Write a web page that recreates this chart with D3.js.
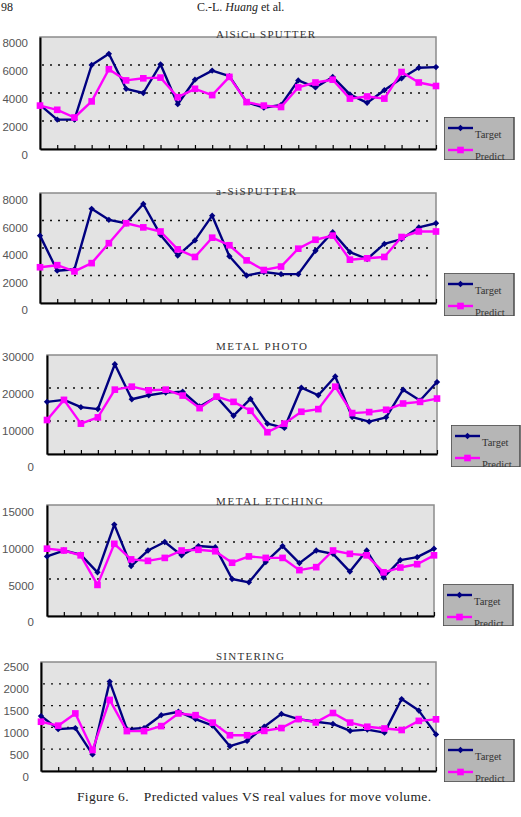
<!DOCTYPE html>
<html>
<head>
<meta charset="utf-8">
<script src="https://cdn.jsdelivr.net/npm/d3@7"></script>
<style>
    body { margin: 0; background: #fff; }
    svg { display: block; }
</style>
</head>
<body>
<div id="chart"></div>
<script>

// x categories (24 periods)
const periods = [1, 2, 3, 4, 5, 6, 7, 8, 9, 10, 11, 12, 13, 14, 15, 16, 17, 18, 19, 20, 21, 22, 23, 24];
const seriesNames = ["Target", "Predict"];

// AlSiCu SPUTTER
const alsicuTarget  = [3150, 2100, 2100, 6000, 6800, 4300, 4000, 6050, 3200, 4950, 5600, 5200, 3350, 2950, 3150, 4900, 4400, 5150, 3900, 3300, 4200, 5050, 5800, 5850];
const alsicuPredict = [3100, 2800, 2250, 3400, 5700, 4900, 5050, 5100, 3700, 4300, 3850, 5150, 3350, 3100, 3000, 4400, 4750, 4950, 3600, 3750, 3600, 5500, 4750, 4500];
const alsicuTicks = [0, 2000, 4000, 6000, 8000];

// a-Si SPUTTER
const asiTarget  = [4900, 2350, 2450, 6850, 6050, 5800, 7200, 4950, 3450, 4550, 6350, 3400, 2000, 2250, 2100, 2100, 3800, 5150, 3700, 3200, 4300, 4650, 5500, 5800];
const asiPredict = [2600, 2750, 2300, 2900, 4350, 5800, 5500, 5200, 3900, 3350, 4750, 4200, 3100, 2400, 2650, 3950, 4600, 4900, 3150, 3250, 3350, 4800, 5200, 5200];
const asiTicks = [0, 2000, 4000, 6000, 8000];

// METAL PHOTO
const photoTarget  = [15800, 16400, 14200, 13600, 27200, 16600, 17800, 18600, 18900, 14400, 17300, 11600, 16700, 9200, 7900, 20100, 17800, 23500, 11200, 9800, 11100, 19500, 16200, 21800];
const photoPredict = [10300, 16400, 9200, 11100, 19500, 20400, 19300, 19500, 17700, 13900, 17400, 15800, 13100, 6600, 9200, 12800, 13600, 20400, 12400, 12700, 13400, 15300, 15800, 16800];
const photoTicks = [0, 10000, 20000, 30000];

// METAL ETCHING
const etchTarget  = [8050, 8850, 8300, 5900, 12350, 6750, 8850, 10000, 8200, 9450, 9300, 5000, 4550, 7300, 9450, 7150, 8850, 8400, 6000, 8850, 5200, 7550, 7950, 9100];
const etchPredict = [9100, 8850, 8200, 4200, 9750, 7650, 7450, 7850, 8850, 8950, 8750, 7200, 8050, 7850, 7850, 6200, 6600, 8850, 8400, 8200, 5900, 6550, 7000, 8200];
const etchTicks = [0, 5000, 10000, 15000];

// SINTERING
const sinterTarget  = [1260, 960, 985, 380, 2050, 960, 985, 1280, 1360, 1190, 1040, 570, 690, 1015, 1310, 1190, 1130, 1080, 920, 950, 880, 1650, 1385, 840];
const sinterPredict = [1130, 1040, 1320, 480, 1630, 915, 915, 1030, 1320, 1280, 1110, 820, 820, 920, 985, 1190, 1115, 1330, 1110, 1015, 975, 940, 1150, 1185];
const sinterTicks = [0, 500, 1000, 1500, 2000, 2500];

const colors = {Target: "#000080", Predict: "#ff00ff"};

class LinePanel {

    constructor(svg, cfg) {
        this.svg = svg;
        this.cfg = cfg;
        this.initVis();
    }

    initVis() {
        let vis = this;
        let c = vis.cfg;

        vis.g = vis.svg.append("g");

        vis.x = d3.scalePoint().domain(periods).range([c.left, c.right]);
        vis.y = d3.scaleLinear().domain([0, d3.max(c.ticks)]).range([c.bottom, c.top]);
        // the scanned tick labels sit a little off the grid, so they get their own scale
        vis.yLab = d3.scaleLinear().domain(vis.y.domain()).range([c.labBottom, c.labTop]);

        // plot area
        vis.g.append("rect")
            .attr("x", c.left).attr("y", c.top)
            .attr("width", c.right - c.left)
            .attr("height", c.bottom - c.top)
            .attr("fill", "#e3e3e3")
            .attr("stroke", "#8c8c8c")
            .attr("stroke-width", 1.5);

        // dotted grid
        vis.g.selectAll(".grid")
            .data(c.ticks.slice(1, -1))
            .enter().append("line")
            .attr("x1", c.left + 2).attr("x2", c.right - 2)
            .attr("y1", d => vis.y(d)).attr("y2", d => vis.y(d))
            .attr("stroke", "#111")
            .attr("stroke-width", 1.3)
            .attr("stroke-dasharray", "2,6");

        // left axis line
        vis.g.append("g")
            .attr("transform", "translate(" + c.left + ",0)")
            .call(d3.axisLeft(vis.y).tickValues([]).tickSizeOuter(0))
            .select(".domain").attr("stroke", "#000").attr("stroke-width", 2);

        // bottom axis with ticks pointing up
        let xAxis = vis.g.append("g")
            .attr("transform", "translate(0," + c.bottom + ")")
            .call(d3.axisBottom(vis.x).tickValues(periods.slice(1)).tickSizeInner(-4).tickSizeOuter(0).tickFormat(""));
        xAxis.select(".domain").attr("stroke", "#000").attr("stroke-width", 2);
        xAxis.selectAll(".tick line").attr("stroke", "#000").attr("stroke-width", 1.2);

        // y labels
        let yAxis = vis.g.append("g")
            .attr("transform", "translate(" + c.labX + ",0)")
            .call(d3.axisLeft(vis.yLab).tickValues(c.ticks).tickSize(0).tickPadding(0).tickFormat(d3.format("d")));
        yAxis.select(".domain").remove();
        yAxis.selectAll("text")
            .attr("fill", "#555")
            .style("font-family", "'Liberation Sans', Arial, sans-serif")
            .style("font-size", "11.5px");

        // title
        vis.g.append("text")
            .attr("x", 216).attr("y", c.titleY)
            .attr("textLength", c.titleW)
            .attr("lengthAdjust", "spacing")
            .attr("fill", "#333")
            .style("font-family", "'Liberation Serif', 'DejaVu Serif', serif")
            .style("font-size", "11px")
            .text(c.title);

        vis.updateVis();
        vis.drawLegend();
    }

    updateVis() {
        let vis = this;
        let c = vis.cfg;

        let line = d3.line()
            .x((d, i) => vis.x(periods[i]))
            .y(d => vis.y(d));

        let series = [
            {key: "Target", values: c.target},
            {key: "Predict", values: c.predict}
        ];

        series.forEach(s => {
            vis.g.append("path")
                .datum(s.values)
                .attr("d", line)
                .attr("fill", "none")
                .attr("stroke", colors[s.key])
                .attr("stroke-width", 2.4)
                .attr("stroke-linejoin", "round");

            vis.g.selectAll(".pt-" + s.key)
                .data(s.values)
                .enter().append("path")
                .attr("d", d3.symbol(d3.symbolSquare, s.key == "Target" ? 20 : 44))
                .attr("transform", (d, i) => "translate(" + vis.x(periods[i]) + "," + vis.y(d) + ")" + (s.key == "Target" ? " rotate(45)" : ""))
                .attr("fill", colors[s.key]);
        });
    }

    drawLegend() {
        let vis = this;
        let L = vis.cfg.legend;
        let id = "clip" + Math.round(L.y);

        vis.svg.append("clipPath").attr("id", id)
            .append("rect").attr("x", L.x).attr("y", L.y).attr("width", L.w + 1).attr("height", L.h);

        let lg = vis.g.append("g").attr("clip-path", "url(#" + id + ")");

        lg.append("rect")
            .attr("x", L.x).attr("y", L.y)
            .attr("width", L.w).attr("height", L.h)
            .attr("fill", "#b6b6b6")
            .attr("stroke", "#4a4a4a")
            .attr("stroke-width", 1.5);

        seriesNames.forEach((name, i) => {
            let ly = L.y + 11 + i * 22;
            lg.append("line")
                .attr("x1", L.x + 4).attr("x2", L.x + 29)
                .attr("y1", ly).attr("y2", ly)
                .attr("stroke", colors[name])
                .attr("stroke-width", 2.4);
            lg.append("path")
                .attr("d", d3.symbol(d3.symbolSquare, name == "Target" ? 20 : 44))
                .attr("transform", "translate(" + (L.x + 16.5) + "," + ly + ")" + (name == "Target" ? " rotate(45)" : ""))
                .attr("fill", colors[name]);
            lg.append("text")
                .attr("x", L.x + 31).attr("y", ly + 10)
                .attr("fill", "#333")
                .style("font-family", "'Liberation Serif', 'DejaVu Serif', serif")
                .style("font-size", "10.5px")
                .text(name);
        });
    }
}

let svg = d3.select("#chart").append("svg")
    .attr("width", 521)
    .attr("height", 817);

// page header
svg.append("text")
    .attr("x", 1).attr("y", 11)
    .attr("fill", "#222")
    .style("font-family", "'Liberation Serif', serif")
    .style("font-size", "12px")
    .text("98");
let runHead = svg.append("text")
    .attr("x", 197).attr("y", 11)
    .attr("fill", "#222")
    .style("font-family", "'Liberation Serif', serif")
    .style("font-size", "12px");
runHead.append("tspan").text("C.-L. ");
runHead.append("tspan").style("font-style", "italic").text("Huang");
runHead.append("tspan").text(" et al.");

let panels = [
    {title: "AlSiCu SPUTTER", titleY: 38, titleW: 99, target: alsicuTarget, predict: alsicuPredict, ticks: alsicuTicks,
        left: 40, right: 436, top: 37, bottom: 149, labTop: 43, labBottom: 155, labX: 28,
        legend: {x: 444, y: 117, w: 70, h: 43}},
    {title: "a-SiSPUTTER", titleY: 195, titleW: 80, target: asiTarget, predict: asiPredict, ticks: asiTicks,
        left: 40, right: 436, top: 193, bottom: 303, labTop: 200, labBottom: 310, labX: 28,
        legend: {x: 444, y: 273, w: 70, h: 43}},
    {title: "METAL PHOTO", titleY: 350, titleW: 91, target: photoTarget, predict: photoPredict, ticks: photoTicks,
        left: 47, right: 437, top: 355, bottom: 454, labTop: 357, labBottom: 467, labX: 34,
        legend: {x: 451, y: 425, w: 69, h: 42}},
    {title: "METAL ETCHING", titleY: 505, titleW: 107, target: etchTarget, predict: etchPredict, ticks: etchTicks,
        left: 47, right: 434, top: 505, bottom: 616, labTop: 512, labBottom: 622, labX: 34,
        legend: {x: 443, y: 584, w: 70, h: 42}},
    {title: "SINTERING", titleY: 660, titleW: 68, target: sinterTarget, predict: sinterPredict, ticks: sinterTicks,
        left: 41, right: 436, top: 662, bottom: 771, labTop: 667, labBottom: 777, labX: 29,
        legend: {x: 444, y: 739, w: 70, h: 43}}
];

panels.forEach(p => new LinePanel(svg, p));

// caption
svg.append("text")
    .attr("x", 77).attr("y", 801)
    .attr("textLength", 354)
    .attr("lengthAdjust", "spacing")
    .attr("fill", "#222")
    .style("font-family", "'Liberation Serif', 'Times New Roman', serif")
    .style("font-size", "13.5px")
    .style("white-space", "pre")
    .text("Figure 6.    Predicted values VS real values for move volume.");

</script>
</body>
</html>
